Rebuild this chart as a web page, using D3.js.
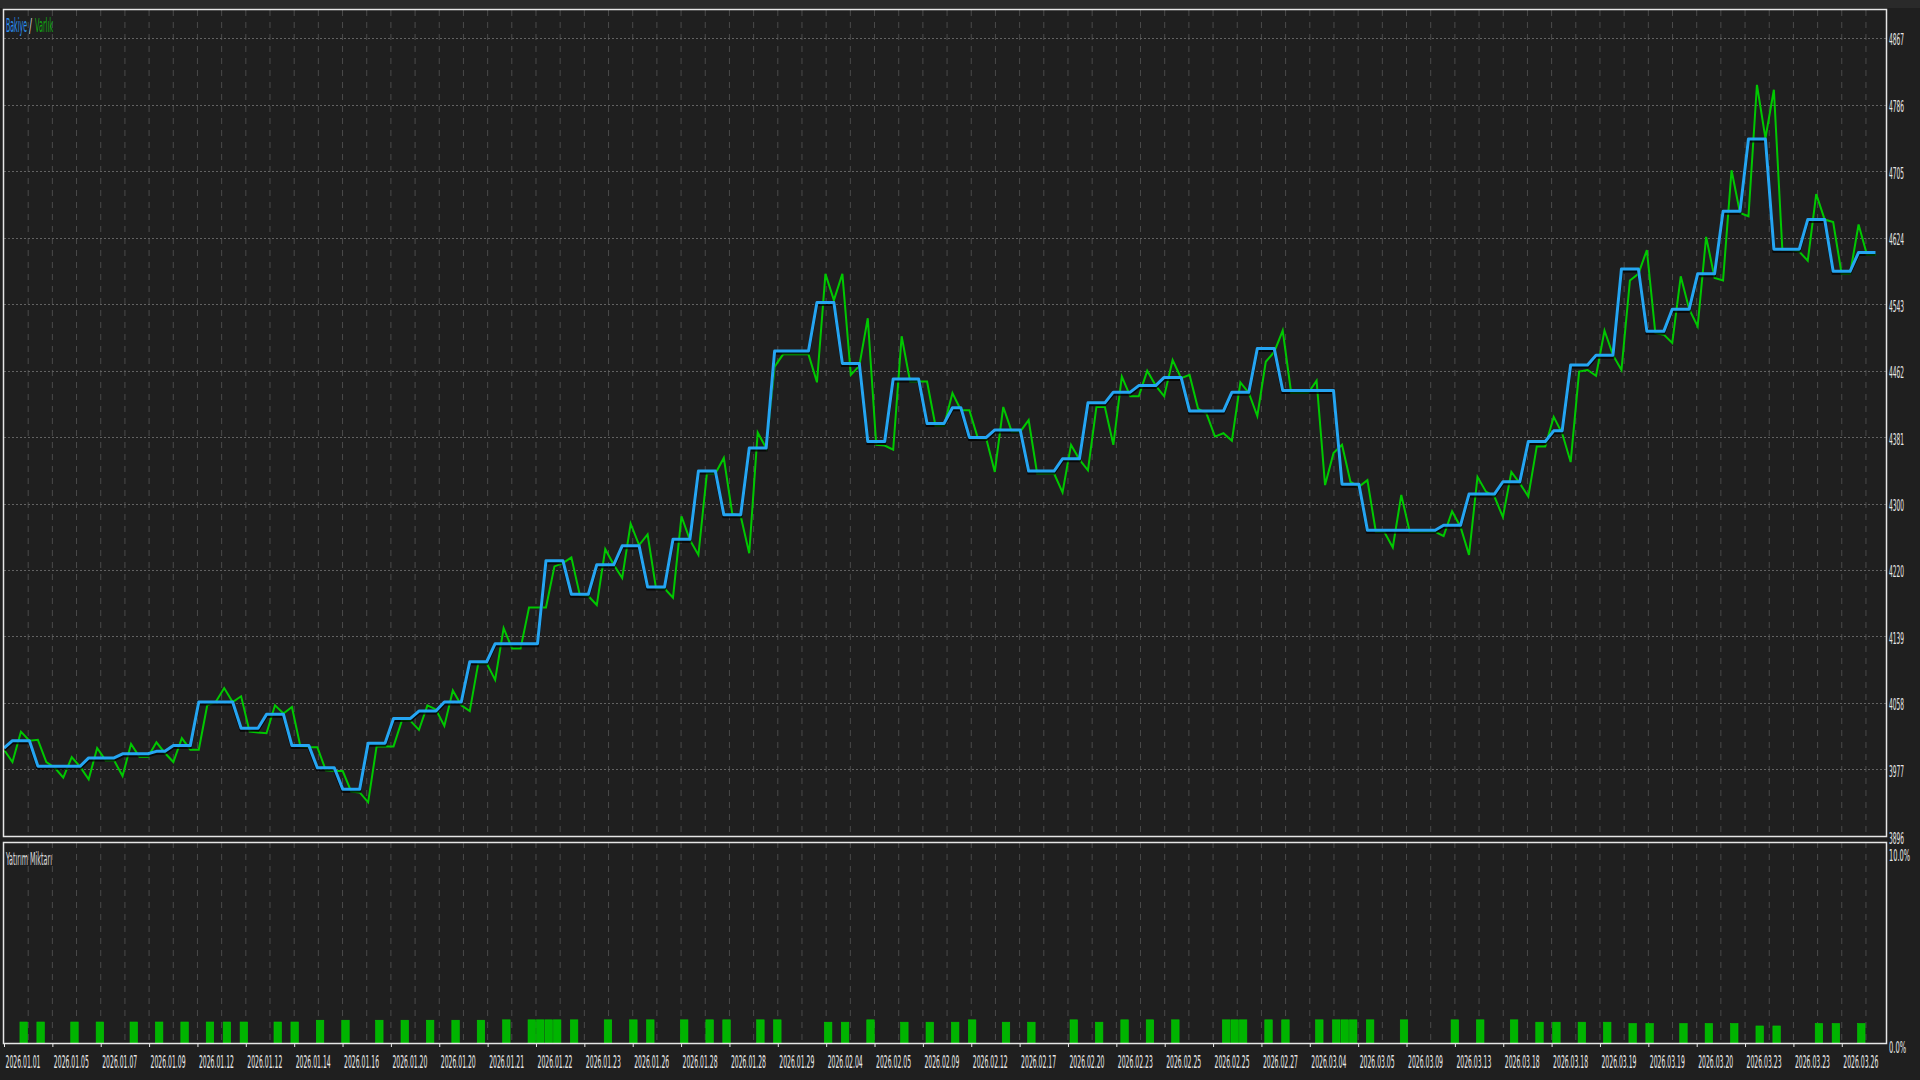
<!DOCTYPE html>
<html><head><meta charset="utf-8">
<script src="https://cdn.jsdelivr.net/npm/d3@7"></script>
<style>
html,body{margin:0;padding:0;background:#1f1f1f;}
svg{display:block;}
text{font-family:"DejaVu Sans",sans-serif;}
</style></head><body>
<svg id="c" width="1920" height="1080"></svg>
<script>
const dateLabels = ["2026.01.01","2026.01.05","2026.01.07","2026.01.09","2026.01.12","2026.01.12","2026.01.14","2026.01.16","2026.01.20","2026.01.20",
"2026.01.21","2026.01.22","2026.01.23","2026.01.26","2026.01.28","2026.01.28","2026.01.29","2026.02.04","2026.02.05","2026.02.09",
"2026.02.12","2026.02.17","2026.02.20","2026.02.23","2026.02.25","2026.02.25","2026.02.27","2026.03.04","2026.03.05","2026.03.09",
"2026.03.13","2026.03.18","2026.03.18","2026.03.19","2026.03.19","2026.03.20","2026.03.23","2026.03.23","2026.03.26"];
const yTicks = [3896,3977,4058,4139,4220,4300,4381,4462,4543,4624,4705,4786,4867];
const pctTicks = [0, 10];
const balance = [
4003,4012,4012,4012,3981,3981,3981,3981,3981,3981,
3991,3991,3991,3991,3996,3996,3996,3996,3999,3999,
4006,4006,4006,4059,4059,4059,4059,4059,4027,4027,
4027,4044,4044,4044,4006,4006,4006,3979,3979,3979,
3953,3953,3953,4009,4009,4009,4039,4039,4039,4048,
4048,4048,4059,4059,4059,4108,4108,4108,4130,4130,
4130,4130,4130,4130,4231,4231,4231,4190,4190,4190,
4226,4226,4226,4249,4249,4249,4199,4199,4199,4257,
4257,4257,4340,4340,4340,4287,4287,4287,4368,4368,
4368,4486,4486,4486,4486,4486,4545,4545,4545,4471,
4471,4471,4376,4376,4376,4452,4452,4452,4452,4398,
4398,4398,4417,4417,4381,4381,4381,4390,4390,4390,
4390,4340,4340,4340,4340,4355,4355,4355,4423,4423,
4423,4436,4436,4436,4444,4444,4444,4454,4454,4454,
4413,4413,4413,4413,4413,4436,4436,4436,4489,4489,
4489,4438,4438,4438,4438,4438,4438,4438,4324,4324,
4324,4268,4268,4268,4268,4268,4268,4268,4268,4268,
4274,4274,4274,4312,4312,4312,4312,4327,4327,4327,
4376,4376,4376,4389,4389,4469,4469,4469,4481,4481,
4481,4586,4586,4586,4510,4510,4510,4537,4537,4537,
4580,4580,4580,4656,4656,4656,4744,4744,4744,4610,
4610,4610,4610,4646,4646,4646,4583,4583,4583,4606,
4606,4606];
const equity = [
4001,3986,4023,4012,4013,3986,3979,3967,3992,3980,
3965,4003,3988,3988,3969,4008,3992,3992,4010,3997,
3986,4015,4001,4001,4055,4059,4076,4059,4066,4023,
4022,4021,4055,4045,4053,4005,4004,4004,3976,3975,
3975,3950,3949,3937,4005,4005,4005,4037,4036,4025,
4055,4050,4030,4073,4055,4048,4106,4106,4086,4149,
4124,4124,4174,4174,4174,4224,4228,4235,4189,4188,
4177,4245,4226,4210,4276,4250,4263,4197,4197,4186,
4285,4256,4238,4337,4337,4356,4288,4285,4240,4387,
4368,4467,4482,4482,4482,4482,4448,4580,4548,4580,
4457,4468,4526,4372,4371,4366,4504,4449,4449,4449,
4395,4395,4435,4414,4414,4380,4379,4339,4418,4388,
4388,4402,4337,4337,4337,4314,4372,4354,4341,4418,
4418,4372,4455,4431,4431,4462,4444,4431,4475,4453,
4457,4416,4410,4382,4386,4377,4448,4435,4407,4473,
4485,4511,4435,4435,4435,4450,4323,4362,4372,4327,
4321,4329,4266,4266,4247,4311,4266,4266,4266,4266,
4261,4291,4272,4238,4333,4315,4309,4284,4339,4325,
4309,4370,4370,4406,4386,4351,4461,4463,4456,4511,
4481,4463,4572,4580,4609,4508,4506,4496,4577,4537,
4516,4625,4575,4572,4706,4654,4650,4810,4745,4804,
4609,4609,4607,4596,4677,4646,4643,4580,4580,4640,
4603,4603];
const loadIdx = [2,4,8,11,15,18,21,24,26,28,32,34,37,40,44,47,50,53,56,
59,62,63,64,65,67,71,74,76,80,83,85,89,91,97,99,102,106,109,112,114,118,121,126,129,132,135,138,
144,145,146,149,151,155,157,158,159,161,165,171,174,178,181,183,186,189,192,194,198,201,204,207,209,214,216,219];
const loadVal = [1.06,1.06,1.06,1.06,1.06,1.06,1.06,1.06,1.06,1.06,1.06,1.06,1.15,1.15,1.15,1.15,1.15,1.15,1.15,
1.17,1.17,1.17,1.17,1.17,1.17,1.17,1.17,1.17,1.17,1.17,1.17,1.17,1.17,1.05,1.05,1.17,1.05,1.05,1.05,1.17,1.05,1.05,1.17,1.05,1.17,1.17,1.17,
1.17,1.17,1.17,1.17,1.17,1.17,1.17,1.17,1.17,1.17,1.17,1.17,1.17,1.17,1.05,1.05,1.05,1.05,0.98,0.98,0.98,0.98,0.98,0.86,0.86,0.98,0.98,0.98];

const W = 1920, H = 1080;
const L = 4, R = 1886, T = 10, B1 = 836, T2 = 842, B2 = 1043;
const labelStep = 5.711;

const svg = d3.select("#c");
svg.append("rect").attr("width", W).attr("height", H).attr("fill", "#1f1f1f");
svg.append("rect").attr("width", W).attr("height", 8).attr("fill", "#2a2a2a");

const x = d3.scaleLinear().domain([0, balance.length - 1]).range([L, 1875.5]);
const y = d3.scaleLinear().domain([3896, 4901]).range([B1, T]);
const y2 = d3.scaleLinear().domain([0, 10]).range([B2, 845]);

// squeeze a text horizontally to a target width, placing its start at (tx, ty)
function fit(sel, tx, ty, targetW) {
  sel.each(function(d, i) {
    const el = d3.select(this).attr("x", 0).attr("y", 0).attr("dy", null).attr("text-anchor", "start");
    const w = this.getComputedTextLength();
    const tw = typeof targetW === "function" ? targetW(d, i) : targetW;
    const yy = typeof ty === "function" ? ty(d, i) : ty;
    el.attr("transform", `translate(${tx},${yy}) scale(${(tw / w).toFixed(4)},1)`);
  });
}

const defs = svg.append("defs");
defs.append("clipPath").attr("id", "clipTop").append("rect")
  .attr("x", L).attr("y", T).attr("width", R - L).attr("height", B1 - T);

// vertical dashed grid (both panels)
const gridIdx = d3.range(78).map(j => j * labelStep / 2);
[[T, B1], [T2, B2]].forEach(([a, b]) => {
  svg.append("g").selectAll("line").data(gridIdx.slice(1)).join("line")
    .attr("x1", d => x(d)).attr("x2", d => x(d)).attr("y1", a).attr("y2", b)
    .attr("stroke", "#4a4a4a").attr("stroke-width", 1).attr("stroke-dasharray", "6,6");
});
// horizontal dotted grid
svg.append("g").selectAll("line").data(yTicks.slice(1)).join("line")
  .attr("x1", L).attr("x2", R).attr("y1", d => Math.round(y(d)) + 0.5).attr("y2", d => Math.round(y(d)) + 0.5)
  .attr("stroke", "#626262").attr("stroke-width", 1.2).attr("stroke-dasharray", "2,2");

// lines
const line = d3.line().x((d, i) => x(i)).y(d => y(d));
const lg = svg.append("g").attr("clip-path", "url(#clipTop)");
lg.append("path").datum(equity).attr("d", line).attr("fill", "none")
  .attr("stroke", "#00c800").attr("stroke-width", 2);
lg.append("path").datum(balance).attr("d", line).attr("fill", "none")
  .attr("transform", "translate(0,2)")
  .attr("stroke", "#000").attr("stroke-opacity", 0.75).attr("stroke-width", 3);
lg.append("path").datum(balance).attr("d", line).attr("fill", "none")
  .attr("stroke", "#25a5f2").attr("stroke-width", 3).attr("stroke-linejoin", "round");

// load bars
const step = x(1) - x(0);
svg.append("g").selectAll("rect").data(loadIdx).join("rect")
  .attr("x", d => x(d) - 1).attr("width", step - 1)
  .attr("y", (d, k) => y2(loadVal[k])).attr("height", (d, k) => B2 - y2(loadVal[k]))
  .attr("fill", "#00b400").attr("stroke", "#00c800").attr("stroke-width", 0.6);

// frames
svg.append("rect").attr("x", L - 0.5).attr("y", T - 0.5).attr("width", R - L + 1).attr("height", B1 - T + 1)
  .attr("fill", "none").attr("stroke", "#e6e6e6").attr("stroke-width", 1.5);
svg.append("rect").attr("x", L - 0.5).attr("y", T2 + 0.5).attr("width", R - L + 1).attr("height", B2 - T2)
  .attr("fill", "none").attr("stroke", "#e6e6e6").attr("stroke-width", 1.5);

// right axis (top panel)
const ay = svg.append("g").attr("transform", `translate(${R},0)`)
  .call(d3.axisRight(y).tickValues(yTicks).tickFormat(d3.format("d")).tickSize(0));
ay.select(".domain").remove();
ay.selectAll("text").attr("fill", "#e8e8e8").attr("font-size", 16);
fit(ay.selectAll("text"), 3, 7, 15);

// right axis (bottom panel)
const ap = svg.append("g").attr("transform", `translate(${R},0)`)
  .call(d3.axisRight(y2).tickValues(pctTicks).tickFormat(d => d3.format(".1f")(d) + "%").tickSize(0));
ap.select(".domain").remove();
ap.selectAll("text").attr("fill", "#e8e8e8").attr("font-size", 16);
fit(ap.selectAll("text"), 3, d => d === 10 ? 15 : 9, d => d === 10 ? 21 : 17);

// bottom date axis
const ax = svg.append("g").attr("transform", `translate(0,${B2})`)
  .call(d3.axisBottom(x).tickValues(d3.range(dateLabels.length).map(k => k * labelStep))
    .tickFormat((d, k) => dateLabels[k]).tickSize(4));
ax.select(".domain").remove();
ax.selectAll(".tick line").attr("stroke", "#e6e6e6");
ax.selectAll("text").attr("fill", "#e8e8e8").attr("font-size", 18);
fit(ax.selectAll("text"), 1, 25, 35);

// legend
const legendParts = [["Bakiye", "#2b8ff0", 6, 21], ["/", "#cfcfcf", 29, 3], ["Varlık", "#12a812", 35, 18]];
svg.append("g").selectAll("text").data(legendParts).join("text")
  .attr("font-size", 19).attr("fill", d => d[1]).text(d => d[0])
  .call(s => fit(s, 0, 0, d => d[3]))
  .each(function(d) {
    const t = d3.select(this);
    t.attr("transform", `translate(${d[2]},32) ` + t.attr("transform").replace(/translate\([^)]*\)\s*/, ""));
  });

const yl = svg.append("text").attr("font-size", 18).attr("fill", "#dcdcdc").text("Yatırım Miktarı");
fit(yl, 6, 865, 46);
</script>
</body></html>
